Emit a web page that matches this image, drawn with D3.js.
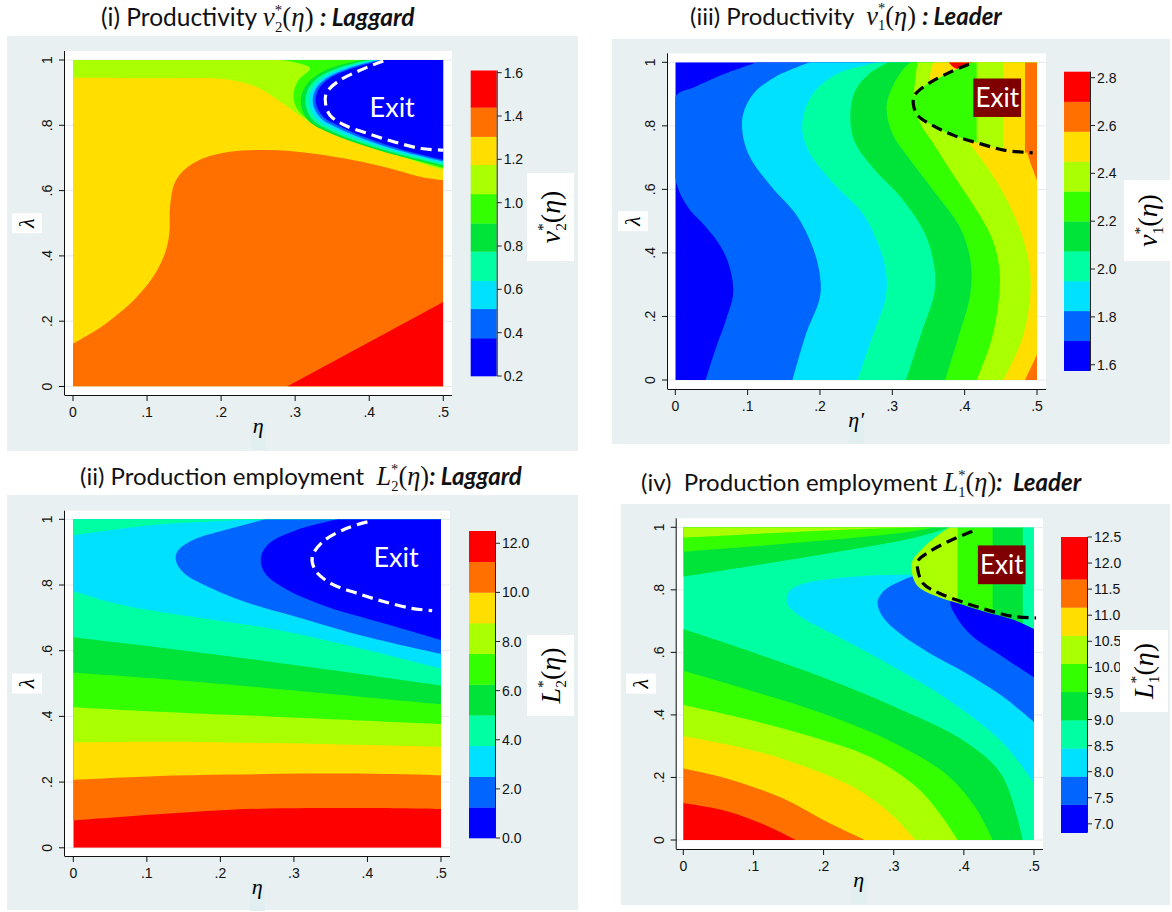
<!DOCTYPE html>
<html><head><meta charset="utf-8">
<script src="https://cdn.jsdelivr.net/npm/d3@7"></script>
<style>body{margin:0;background:#fff}svg{display:block}text{white-space:pre}</style>
</head><body><svg id="c" width="1172" height="912"></svg>
<script>
// ---------------- DATA ----------------
const PALETTE = ["#0000ff","#0066ff","#00e1ff","#00ffa3","#00e43a","#33ff00","#aaff00","#ffde00","#ff7000","#ff0000"];
const LAM_TICKS = [0, 0.2, 0.4, 0.6, 0.8, 1];
const LAM_LABELS = ["0", ".2", ".4", ".6", ".8", "1"];
const ETA_TICKS = [0, 0.1, 0.2, 0.3, 0.4, 0.5];
const ETA_LABELS = ["0", ".1", ".2", ".3", ".4", ".5"];

// colour-band cut points (10 bands each)
const I_BREAKS = [0.2, 0.375, 0.51, 0.64, 0.775, 0.905, 1.04, 1.175, 1.305, 1.44, 1.61];
const I_CB_TICKS = [0.2, 0.4, 0.6, 0.8, 1.0, 1.2, 1.4, 1.6];
const II_BREAKS = [0, 1.25, 2.5, 3.75, 5, 6.25, 7.5, 8.75, 10, 11.25, 12.5];
const II_CB_TICKS = [0, 2, 4, 6, 8, 10, 12];
const III_BREAKS = [1.575, 1.7, 1.825, 1.95, 2.075, 2.2, 2.325, 2.45, 2.575, 2.7, 2.825];
const III_CB_TICKS = [1.6, 1.8, 2.0, 2.2, 2.4, 2.6, 2.8];
const IV_BREAKS = [6.83, 7.37, 7.91, 8.45, 8.99, 9.53, 10.07, 10.61, 11.15, 11.69, 12.5];
const IV_CB_TICKS = [7.0, 7.5, 8.0, 8.5, 9.0, 9.5, 10.0, 10.5, 11.0, 11.5, 12.0, 12.5];

// Panel (i) v2*: contour lines [eta, lambda]
const I_ORANGE = [[0,0.131],[0.031,0.172],[0.056,0.213],[0.082,0.264],[0.108,0.335],[0.124,0.407],[0.13,0.468],[0.131,0.55],[0.137,0.622],[0.15,0.663],[0.175,0.698],[0.212,0.719],[0.263,0.724],[0.315,0.716],[0.367,0.698],[0.419,0.673],[0.47,0.642],[0.5,0.632]];
const I_RED = [[0.289,0],[0.5,0.259]];
const I_B7 = [[0,0.946],[0.1,0.944],[0.21,0.94],[0.25,0.915],[0.274,0.882],[0.295,0.848],[0.315,0.816],[0.34,0.79],[0.367,0.768],[0.419,0.724],[0.47,0.683],[0.5,0.663]];
const I_B6 = [[0.282,1],[0.32,0.975],[0.305,0.94],[0.298,0.9],[0.3,0.862],[0.31,0.83],[0.332,0.8],[0.372,0.765],[0.43,0.715],[0.5,0.668]];
const I_B5 = [[0.39,1],[0.35,0.977],[0.325,0.947],[0.311,0.908],[0.308,0.864],[0.318,0.814],[0.342,0.781],[0.383,0.745],[0.435,0.709],[0.5,0.673]];
const I_B4 = [[0.4,1],[0.36,0.977],[0.331,0.946],[0.317,0.908],[0.314,0.864],[0.324,0.816],[0.348,0.783],[0.387,0.748],[0.438,0.713],[0.5,0.678]];
const I_B3 = [[0.407,1],[0.366,0.976],[0.337,0.945],[0.322,0.908],[0.319,0.865],[0.329,0.819],[0.353,0.787],[0.391,0.752],[0.441,0.717],[0.5,0.684]];
const I_B2 = [[0.413,1],[0.372,0.975],[0.342,0.944],[0.327,0.908],[0.324,0.866],[0.334,0.823],[0.358,0.791],[0.395,0.756],[0.443,0.721],[0.5,0.689]];
const I_B1 = [[0.419,1],[0.377,0.974],[0.346,0.943],[0.331,0.908],[0.328,0.867],[0.338,0.826],[0.362,0.795],[0.398,0.76],[0.445,0.725],[0.5,0.694]];
const I_DASH = [[0.419,0.997],[0.388,0.969],[0.357,0.933],[0.342,0.898],[0.341,0.867],[0.347,0.831],[0.367,0.8],[0.398,0.775],[0.434,0.749],[0.47,0.729],[0.5,0.724]];
const I_EXIT_AT = [0.431, 0.825];

// Panel (ii) L2*
const II_B9 = [[0,0.083],[0.109,0.101],[0.214,0.116],[0.319,0.121],[0.397,0.121],[0.5,0.118]];
const II_B8 = [[0,0.207],[0.109,0.218],[0.214,0.223],[0.319,0.226],[0.423,0.225],[0.5,0.221]];
const II_B7 = [[0,0.321],[0.109,0.323],[0.266,0.319],[0.5,0.307]];
const II_B6 = [[0,0.428],[0.109,0.415],[0.266,0.4],[0.5,0.377]];
const II_B5 = [[0,0.533],[0.109,0.516],[0.266,0.486],[0.5,0.437]];
const II_B4 = [[0,0.641],[0.109,0.612],[0.266,0.567],[0.5,0.494]];
const II_B3 = [[0,0.782],[0.057,0.744],[0.162,0.703],[0.266,0.668],[0.371,0.617],[0.5,0.545]];
const II_WEDGE = [[0.26,1],[0.2,0.995],[0.12,0.985],[0.06,0.97],[0,0.952]];
const II_B2 = [[0.261,1],[0.214,0.972],[0.162,0.936],[0.141,0.9],[0.14,0.87],[0.151,0.835],[0.183,0.795],[0.24,0.744],[0.319,0.693],[0.397,0.643],[0.5,0.59]];
const II_B1 = [[0.36,1],[0.303,0.967],[0.266,0.926],[0.255,0.881],[0.261,0.835],[0.292,0.784],[0.345,0.734],[0.423,0.683],[0.5,0.633]];
const II_DASH = [[0.4,0.992],[0.371,0.972],[0.339,0.931],[0.325,0.886],[0.329,0.845],[0.35,0.805],[0.387,0.774],[0.423,0.749],[0.46,0.729],[0.488,0.722]];
const II_EXIT_AT = [0.439, 0.855];

// Panel (iii) v1*
const III_B1 = [[0.042,0],[0.055,0.094],[0.07,0.189],[0.08,0.273],[0.075,0.356],[0.063,0.419],[0.042,0.482],[0.017,0.545],[0,0.634],[0,0.891],[0.027,0.922],[0.063,0.959],[0.113,1]];
const III_B2 = [[0.162,0],[0.181,0.147],[0.199,0.252],[0.201,0.304],[0.193,0.398],[0.169,0.514],[0.133,0.608],[0.103,0.702],[0.093,0.776],[0.094,0.839],[0.108,0.901],[0.138,0.954],[0.186,1]];
const III_B3 = [[0.252,0],[0.274,0.147],[0.29,0.252],[0.292,0.325],[0.282,0.419],[0.259,0.524],[0.219,0.618],[0.189,0.702],[0.176,0.776],[0.179,0.849],[0.194,0.912],[0.224,0.964],[0.28,1]];
const III_B4 = [[0.319,0],[0.34,0.147],[0.358,0.273],[0.358,0.356],[0.345,0.461],[0.315,0.566],[0.272,0.671],[0.247,0.755],[0.242,0.839],[0.249,0.912],[0.268,0.964],[0.295,1]];
const III_B5 = [[0.373,0],[0.393,0.147],[0.408,0.273],[0.408,0.377],[0.393,0.482],[0.36,0.587],[0.325,0.692],[0.3,0.776],[0.292,0.86],[0.3,0.922],[0.314,0.975],[0.325,1]];
const III_B6 = [[0.4166,0],[0.437,0.126],[0.447,0.25],[0.448,0.35],[0.437,0.45],[0.412,0.55],[0.383,0.65],[0.358,0.74],[0.338,0.81],[0.33,0.88],[0.332,0.95],[0.335,1]];
const III_B7 = [[0.4534,0],[0.479,0.126],[0.49,0.25],[0.49,0.35],[0.48,0.45],[0.462,0.55],[0.44,0.64],[0.415,0.72],[0.39,0.79],[0.36,0.87],[0.352,0.95],[0.357,1]];
const III_OR_LOW = [[0.4834,0],[0.5,0.08]];
const III_OR_UP = [[0.5,0.63],[0.49,0.69],[0.4834,0.75],[0.4834,0.8]];
const III_RED_TOP = [[0.378,1],[0.385,0.984],[0.397,0.978],[0.407,0.99],[0.41,1]];
const III_DASH = [[0.406,0.994],[0.38,0.969],[0.35,0.933],[0.331,0.897],[0.329,0.87],[0.335,0.833],[0.355,0.802],[0.385,0.77],[0.421,0.744],[0.456,0.723],[0.494,0.715]];
const III_STRIPES = [[0.3,0.4166],[0.4166,0.4534],[0.4534,0.4834],[0.4834,0.5]];
const III_STRIPE_LEVELS = [6, 7, 8, 9];
const III_EXIT_BOX = [0.412, 0.478, 0.828, 0.949];

// Panel (iv) L1*
const IV_B4 = [[0,0.675],[0.088,0.609],[0.193,0.525],[0.297,0.43],[0.402,0.314],[0.454,0.208],[0.484,0]];
const IV_B5 = [[0,0.541],[0.088,0.483],[0.193,0.409],[0.297,0.314],[0.376,0.208],[0.417,0.102],[0.441,0]];
const IV_B6 = [[0,0.432],[0.088,0.388],[0.193,0.324],[0.271,0.261],[0.334,0.166],[0.37,0.071],[0.391,0]];
const IV_B7 = [[0,0.332],[0.088,0.293],[0.167,0.24],[0.245,0.166],[0.297,0.081],[0.331,0]];
const IV_B8 = [[0,0.229],[0.062,0.197],[0.141,0.134],[0.203,0.06],[0.259,0]];
const IV_B9 = [[0,0.118],[0.062,0.092],[0.114,0.05],[0.16,0]];
const IV_U4 = [[0,0.842],[0.088,0.873],[0.166,0.901],[0.25,0.933],[0.32,0.962],[0.36,0.985],[0.38,1]];
const IV_U5 = [[0,0.922],[0.088,0.937],[0.166,0.951],[0.25,0.968],[0.32,0.985],[0.36,1]];
const IV_U6 = [[0,0.967],[0.088,0.977],[0.166,0.986],[0.25,0.994],[0.35,1]];
const IV_CYAN = [[0.5,0.182],[0.454,0.314],[0.376,0.451],[0.297,0.557],[0.219,0.652],[0.167,0.715],[0.148,0.757],[0.151,0.794],[0.172,0.82],[0.219,0.837],[0.276,0.847],[0.33,0.85],[0.36,0.86]];
const IV_MBLUE = [[0.5,0.377],[0.454,0.461],[0.402,0.535],[0.35,0.599],[0.308,0.662],[0.284,0.715],[0.277,0.762],[0.287,0.799],[0.308,0.826],[0.33,0.845],[0.36,0.85]];
const IV_BLUE = [[0.5,0.52],[0.454,0.588],[0.412,0.652],[0.389,0.715],[0.381,0.762],[0.4,0.8]];
const IV_EXIT = [[0.38,1],[0.36,0.97],[0.34,0.93],[0.327,0.895],[0.325,0.868],[0.333,0.815],[0.36,0.78],[0.395,0.755],[0.43,0.73],[0.47,0.705],[0.5,0.675]];
const IV_DASH = [[0.412,0.987],[0.381,0.958],[0.35,0.921],[0.335,0.894],[0.334,0.868],[0.342,0.82],[0.365,0.789],[0.397,0.762],[0.433,0.736],[0.47,0.715],[0.503,0.71]];
const IV_STRIPES = [[0.3,0.391],[0.391,0.441],[0.441,0.484],[0.484,0.5]];
const IV_STRIPE_LEVELS = [7, 6, 5, 4];
const IV_EXIT_BOX = [0.42, 0.488, 0.818, 0.942];

// ---------------- DRAW ----------------
const svg = d3.select("#c");
const BG = "#e8f0f2";
const SERIF = "'Liberation Serif','DejaVu Serif',serif";
const SANS = "'Liberation Sans',Arial,sans-serif";
const TITLEF = "Lato,'Open Sans',sans-serif";
let clipN = 0;

function regionPath(x, y, pts, tail) {
  const lg = d3.line().x(d => x(d[0])).y(d => y(d[1])).curve(d3.curveCatmullRom.alpha(0.5));
  let s = lg(pts);
  (tail || []).forEach(t => { s += "L" + x(t[0]) + "," + y(t[1]); });
  return s + "Z";
}

function mathLabel(sel, letter, sub, size) {
  const s2 = size * 0.55;
  sel.append("tspan").attr("font-family", SERIF).attr("font-style", "italic").attr("font-size", size).text(letter);
  sel.append("tspan").attr("font-family", SERIF).attr("font-size", s2).attr("dy", -size * 0.42).text("*");
  sel.append("tspan").attr("font-family", SERIF).attr("font-size", s2).attr("dx", -size * 0.27).attr("dy", size * 0.64).text(sub);
  sel.append("tspan").attr("font-family", SERIF).attr("font-size", size).attr("dy", -size * 0.22).text("(");
  sel.append("tspan").attr("font-family", SERIF).attr("font-style", "italic").attr("font-size", size).text("η");
  sel.append("tspan").attr("font-family", SERIF).attr("font-size", size).text(")");
}

function drawPanel(p) {
  const g = svg.append("g");
  g.append("rect").attr("x", p.bg[0]).attr("y", p.bg[1]).attr("width", p.bg[2] - p.bg[0]).attr("height", p.bg[3] - p.bg[1]).attr("fill", BG);
  g.append("rect").attr("x", p.wr[0]).attr("y", p.wr[1]).attr("width", p.wr[2] - p.wr[0]).attr("height", p.wr[3] - p.wr[1]).attr("fill", "#fff");
  const x = d3.scaleLinear().domain([0, 0.5]).range([p.x0, p.x1]);
  const y = d3.scaleLinear().domain([0, 1]).range([p.yb, p.yt]);
  g.selectAll(".grid").data(LAM_TICKS).enter().append("line")
    .attr("x1", p.wr[0]).attr("x2", p.wr[2]).attr("y1", d => y(d)).attr("y2", d => y(d))
    .attr("stroke", "#e3eaec").attr("stroke-width", 1);
  const cid = "clip" + (clipN++);
  svg.append("clipPath").attr("id", cid).append("rect")
    .attr("x", x(0)).attr("y", y(1)).attr("width", x(0.5) - x(0)).attr("height", y(0) - y(1));
  const cg = g.append("g").attr("clip-path", "url(#" + cid + ")");
  cg.append("rect").attr("x", x(0)).attr("y", y(1)).attr("width", x(0.5) - x(0)).attr("height", y(0) - y(1)).attr("fill", PALETTE[p.base - 1]);
  p.layers.forEach(L => {
    cg.append("path").attr("d", regionPath(x, y, L.pts, L.tail)).attr("fill", PALETTE[L.c - 1]);
  });
  if (p.exitRegion) {
    const eid = "clip" + (clipN++);
    svg.append("clipPath").attr("id", eid).append("path").attr("d", regionPath(x, y, p.exitRegion, p.exitTail));
    const eg = cg.append("g").attr("clip-path", "url(#" + eid + ")");
    eg.selectAll("rect").data(p.stripes).enter().append("rect")
      .attr("x", d => x(d[0])).attr("width", d => x(d[1]) - x(d[0]) + 0.5)
      .attr("y", y(1)).attr("height", y(0) - y(1))
      .attr("fill", (d, i) => PALETTE[p.stripeLevels[i] - 1]);
  }
  g.append("path").attr("d", d3.line().x(d => x(d[0])).y(d => y(d[1])).curve(d3.curveCatmullRom.alpha(0.5))(p.dash))
    .attr("fill", "none").attr("stroke", p.dashColor).attr("stroke-width", 3.2).attr("stroke-dasharray", "11,6");
  if (p.exitBox) {
    const b = p.exitBox;
    g.append("rect").attr("x", x(b[0])).attr("y", y(b[3])).attr("width", x(b[1]) - x(b[0])).attr("height", y(b[2]) - y(b[3])).attr("fill", "#7f0000");
    g.append("text").attr("x", (x(b[0]) + x(b[1])) / 2).attr("y", (y(b[2]) + y(b[3])) / 2 + 9)
      .attr("text-anchor", "middle").attr("font-family", TITLEF).attr("font-size", 26).attr("fill", "#fff").text("Exit");
  } else {
    g.append("text").attr("x", x(p.exitAt[0])).attr("y", y(p.exitAt[1]))
      .attr("text-anchor", "middle").attr("font-family", TITLEF).attr("font-size", 27).attr("fill", "#fff").text("Exit");
  }
  g.append("line").attr("x1", p.wr[0] - 0.5).attr("x2", p.wr[0] - 0.5).attr("y1", p.wr[1]).attr("y2", p.wr[3]).attr("stroke", "#111");
  g.append("line").attr("x1", p.wr[0] - 0.5).attr("x2", p.wr[2]).attr("y1", p.wr[3] + 0.5).attr("y2", p.wr[3] + 0.5).attr("stroke", "#111");
  g.selectAll(".yt").data(LAM_TICKS).enter().append("line")
    .attr("x1", p.wr[0] - 6).attr("x2", p.wr[0] - 0.5).attr("y1", d => y(d)).attr("y2", d => y(d)).attr("stroke", "#111");
  g.selectAll(".yl").data(LAM_TICKS).enter().append("text")
    .attr("transform", d => "translate(" + (p.wr[0] - 13) + "," + y(d) + ") rotate(-90)")
    .attr("text-anchor", "middle").attr("font-family", SANS).attr("font-size", 14).attr("fill", "#111")
    .text((d, i) => LAM_LABELS[i]);
  g.selectAll(".xt").data(ETA_TICKS).enter().append("line")
    .attr("y1", p.wr[3] + 0.5).attr("y2", p.wr[3] + 6).attr("x1", d => x(d)).attr("x2", d => x(d)).attr("stroke", "#111");
  g.selectAll(".xl").data(ETA_TICKS).enter().append("text")
    .attr("x", d => x(d)).attr("y", p.wr[3] + 22)
    .attr("text-anchor", "middle").attr("font-family", SANS).attr("font-size", 14).attr("fill", "#111")
    .text((d, i) => ETA_LABELS[i]);
  const lamY = y(0.5);
  g.append("rect").attr("x", 12 + p.shiftX).attr("y", lamY - 10).attr("width", 30).attr("height", 20).attr("fill", "#fff");
  g.append("text").attr("transform", "translate(" + (34 + p.shiftX) + "," + lamY + ") rotate(-90)")
    .attr("text-anchor", "middle").attr("font-family", SERIF).attr("font-style", "italic").attr("font-size", 22).text("λ");
  const etaX = (x(0) + x(0.5)) / 2;
  g.append("rect").attr("x", etaX - 7).attr("y", p.wr[3] + 27).attr("width", 15).attr("height", 28).attr("fill", "#e1eff0");
  g.append("text").attr("x", etaX).attr("y", p.wr[3] + 38).attr("text-anchor", "middle")
    .attr("font-family", SERIF).attr("font-style", "italic").attr("font-size", 22).text(p.etaLabel);
  const br = p.breaks;
  const cy = d3.scaleLinear().domain([br[0], br[br.length - 1]]).range([p.cb[2], p.cb[1]]);
  for (let i = 0; i < 10; i++) {
    g.append("rect").attr("x", p.cb[0]).attr("width", 26).attr("y", cy(br[i + 1])).attr("height", cy(br[i]) - cy(br[i + 1]) + 0.3).attr("fill", PALETTE[i]);
  }
  g.append("line").attr("x1", p.cb[0] + 26.5).attr("x2", p.cb[0] + 26.5).attr("y1", cy(br[br.length - 1])).attr("y2", cy(br[0])).attr("stroke", "#222");
  g.selectAll(".ct").data(p.cbTicks).enter().append("line")
    .attr("x1", p.cb[0] + 26.5).attr("x2", p.cb[0] + 31).attr("y1", d => cy(d)).attr("y2", d => cy(d)).attr("stroke", "#222");
  g.selectAll(".cl").data(p.cbTicks).enter().append("text")
    .attr("x", p.cb[0] + 33).attr("y", d => cy(d) + 5).attr("font-family", SANS).attr("font-size", 14).attr("fill", "#111")
    .text(d => d3.format(".1f")(d));
  g.append("rect").attr("x", p.cbt[0]).attr("y", p.cbt[1]).attr("width", p.cbt[2]).attr("height", p.cbt[3]).attr("fill", "#fff");
  const ct = g.append("text").attr("transform", "translate(" + (p.cbt[0] + p.cbt[2] / 2 + 9) + "," + (p.cbt[1] + p.cbt[3] / 2) + ") rotate(-90)")
    .attr("text-anchor", "middle");
  mathLabel(ct, p.cbLetter, p.cbSub, 28);
}

drawPanel({
  bg: [7, 36, 578, 451], wr: [65, 51, 452, 395], x0: 73, x1: 443.3, yt: 60, yb: 386.5, shiftX: 0,
  base: 8,
  layers: [
    {c: 9, pts: I_ORANGE, tail: [[0.5, 0], [0, 0]]},
    {c: 10, pts: I_RED, tail: [[0.5, 0]]},
    {c: 7, pts: I_B7, tail: [[0.5, 1], [0, 1]]},
    {c: 6, pts: I_B6, tail: [[0.5, 1]]},
    {c: 5, pts: I_B5, tail: [[0.5, 1]]},
    {c: 4, pts: I_B4, tail: [[0.5, 1]]},
    {c: 3, pts: I_B3, tail: [[0.5, 1]]},
    {c: 2, pts: I_B2, tail: [[0.5, 1]]},
    {c: 1, pts: I_B1, tail: [[0.5, 1]]}
  ],
  dash: I_DASH, dashColor: "#fff", exitAt: I_EXIT_AT, etaLabel: "η",
  breaks: I_BREAKS, cbTicks: I_CB_TICKS, cb: [470.7, 70.5, 376], cbt: [527, 173, 47, 88], cbLetter: "v", cbSub: "2"
});

drawPanel({
  bg: [7, 495, 578, 910], wr: [65, 510.7, 450, 856], x0: 73.3, x1: 441, yt: 519.3, yb: 847.8, shiftX: 0,
  base: 10,
  layers: [
    {c: 9, pts: II_B9, tail: [[0.5, 1], [0, 1]]},
    {c: 8, pts: II_B8, tail: [[0.5, 1], [0, 1]]},
    {c: 7, pts: II_B7, tail: [[0.5, 1], [0, 1]]},
    {c: 6, pts: II_B6, tail: [[0.5, 1], [0, 1]]},
    {c: 5, pts: II_B5, tail: [[0.5, 1], [0, 1]]},
    {c: 4, pts: II_B4, tail: [[0.5, 1], [0, 1]]},
    {c: 3, pts: II_B3, tail: [[0.5, 1], [0, 1]]},
    {c: 4, pts: II_WEDGE, tail: [[0, 1]]},
    {c: 2, pts: II_B2, tail: [[0.5, 1]]},
    {c: 1, pts: II_B1, tail: [[0.5, 1]]}
  ],
  dash: II_DASH, dashColor: "#fff", exitAt: II_EXIT_AT, etaLabel: "η",
  breaks: II_BREAKS, cbTicks: II_CB_TICKS, cb: [469, 531, 838], cbt: [527, 635, 47, 81], cbLetter: "L", cbSub: "2"
});

drawPanel({
  bg: [612, 39, 1170, 444], wr: [668, 53.3, 1046, 389], x0: 675.3, x1: 1037, yt: 62.3, yb: 380, shiftX: 606,
  base: 1,
  layers: [
    {c: 2, pts: III_B1, tail: [[0.5, 1], [0.5, 0]]},
    {c: 3, pts: III_B2, tail: [[0.5, 1], [0.5, 0]]},
    {c: 4, pts: III_B3, tail: [[0.5, 1], [0.5, 0]]},
    {c: 5, pts: III_B4, tail: [[0.5, 1], [0.5, 0]]},
    {c: 6, pts: III_B5, tail: [[0.5, 1], [0.5, 0]]},
    {c: 7, pts: III_B6, tail: [[0.5, 1], [0.5, 0]]},
    {c: 8, pts: III_B7, tail: [[0.5, 1], [0.5, 0]]},
    {c: 9, pts: III_OR_LOW, tail: [[0.5, 0]]},
    {c: 9, pts: III_OR_UP, tail: [[0.5, 0.8]]},
    {c: 10, pts: III_RED_TOP, tail: []}
  ],
  exitRegion: III_DASH, exitTail: [[0.5, 0.715], [0.5, 1], [0.406, 1]],
  stripes: III_STRIPES, stripeLevels: III_STRIPE_LEVELS,
  dash: III_DASH, dashColor: "#000", exitBox: III_EXIT_BOX, etaLabel: "η'",
  breaks: III_BREAKS, cbTicks: III_CB_TICKS, cb: [1064, 71.7, 370.7], cbt: [1124, 180, 48, 81], cbLetter: "v", cbSub: "1"
});

drawPanel({
  bg: [620.7, 504, 1170, 905], wr: [676.7, 518.3, 1043, 849], x0: 683.3, x1: 1034, yt: 527.3, yb: 840, shiftX: 614,
  base: 4,
  layers: [
    {c: 5, pts: IV_B4, tail: [[0, 0]]},
    {c: 6, pts: IV_B5, tail: [[0, 0]]},
    {c: 7, pts: IV_B6, tail: [[0, 0]]},
    {c: 8, pts: IV_B7, tail: [[0, 0]]},
    {c: 9, pts: IV_B8, tail: [[0, 0]]},
    {c: 10, pts: IV_B9, tail: [[0, 0]]},
    {c: 5, pts: IV_U4, tail: [[0, 1]]},
    {c: 6, pts: IV_U5, tail: [[0, 1]]},
    {c: 7, pts: IV_U6, tail: [[0, 1]]},
    {c: 3, pts: IV_CYAN, tail: [[0.5, 0.9]]},
    {c: 2, pts: IV_MBLUE, tail: [[0.5, 0.9]]},
    {c: 1, pts: IV_BLUE, tail: [[0.5, 0.8]]}
  ],
  exitRegion: IV_EXIT, exitTail: [[0.5, 1]],
  stripes: IV_STRIPES, stripeLevels: IV_STRIPE_LEVELS,
  dash: IV_DASH, dashColor: "#000", exitBox: IV_EXIT_BOX, etaLabel: "η",
  breaks: IV_BREAKS, cbTicks: IV_CB_TICKS, cb: [1061, 537, 832.7], cbt: [1120, 630, 48, 82], cbLetter: "L", cbSub: "1"
});

// ---------------- TITLES ----------------
function title(xp, yp, fs, pre, letter, sub, post) {
  const t = svg.append("text").attr("x", xp).attr("y", yp).attr("font-family", TITLEF).attr("font-size", fs).attr("fill", "#111");
  t.append("tspan").text(pre);
  mathLabel(t, letter, sub, fs * 1.1);
  t.append("tspan").attr("font-family", TITLEF).attr("font-size", fs).text(post[0]);
  t.append("tspan").attr("font-family", TITLEF).attr("font-size", fs).attr("font-weight", "bold").attr("font-style", "italic").text(post[1]);
}
title(101, 26, 24.5, "(i) Productivity ", "v", "2", [" ", ": Laggard"]);
title(690, 24.5, 24, "(iii) Productivity  ", "v", "1", [" ", ": Leader"]);
title(80, 485, 24, "(ii) Production employment  ", "L", "2", ["", ": Laggard"]);
title(641, 491, 24, "(iv)  Production employment ", "L", "1", ["", ":  Leader"]);
</script></body></html>
